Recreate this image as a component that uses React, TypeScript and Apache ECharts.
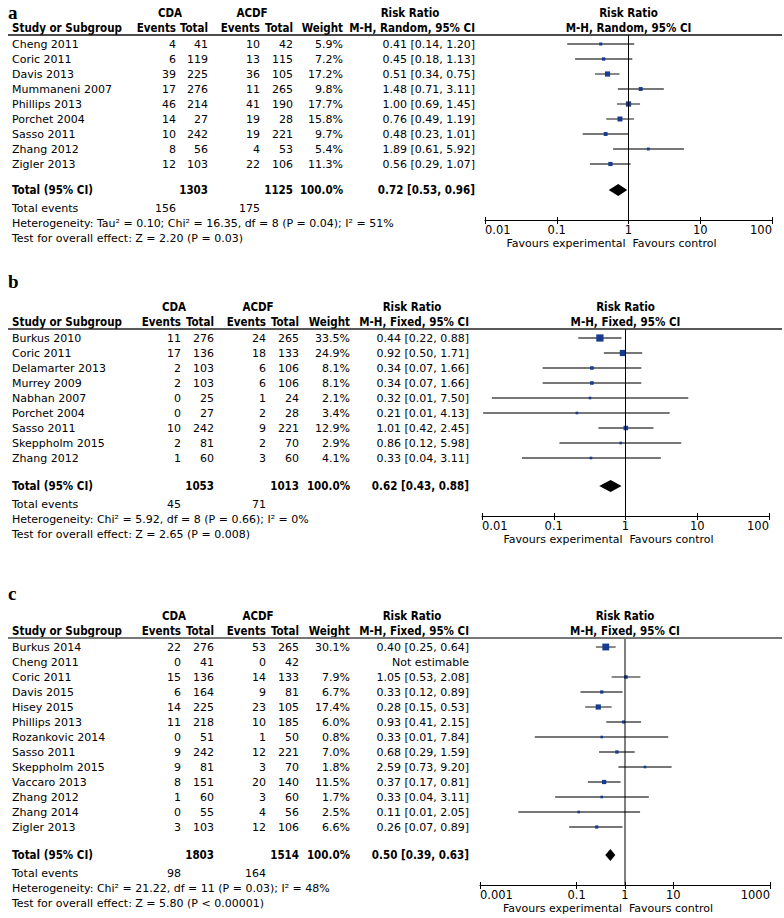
import React, { useEffect, useRef } from "react";
import * as echarts from "echarts";

// ---------- Panel a ----------
const studiesA = ["Cheng 2011", "Coric 2011", "Davis 2013", "Mummaneni 2007", "Phillips 2013", "Porchet 2004", "Sasso 2011", "Zhang 2012", "Zigler 2013"];
const cdaEventsA = [4, 6, 39, 17, 46, 14, 10, 8, 12];
const cdaTotalA = [41, 119, 225, 276, 214, 27, 242, 56, 103];
const acdfEventsA = [10, 13, 36, 11, 41, 19, 19, 4, 22];
const acdfTotalA = [42, 115, 105, 265, 190, 28, 221, 53, 106];
const weightA = [5.9, 7.2, 17.2, 9.8, 17.7, 15.8, 9.7, 5.4, 11.3];
const rrA = [0.41, 0.45, 0.51, 1.48, 1.0, 0.76, 0.48, 1.89, 0.56];
const lowerA = [0.14, 0.18, 0.34, 0.71, 0.69, 0.49, 0.23, 0.61, 0.29];
const upperA = [1.2, 1.13, 0.75, 3.11, 1.45, 1.19, 1.01, 5.92, 1.07];
const totalsA = [1303, 1125];
const totalEventsA = [156, 175];
const pooledA = [0.72, 0.53, 0.96];
const hetA = "Heterogeneity: Tau² = 0.10; Chi² = 16.35, df = 8 (P = 0.04); I² = 51%";
const testA = "Test for overall effect: Z = 2.20 (P = 0.03)";
const ticksA = [0.01, 0.1, 1, 10, 100];

// ---------- Panel b ----------
const studiesB = ["Burkus 2010", "Coric 2011", "Delamarter 2013", "Murrey 2009", "Nabhan 2007", "Porchet 2004", "Sasso 2011", "Skeppholm 2015", "Zhang 2012"];
const cdaEventsB = [11, 17, 2, 2, 0, 0, 10, 2, 1];
const cdaTotalB = [276, 136, 103, 103, 25, 27, 242, 81, 60];
const acdfEventsB = [24, 18, 6, 6, 1, 2, 9, 2, 3];
const acdfTotalB = [265, 133, 106, 106, 24, 28, 221, 70, 60];
const weightB = [33.5, 24.9, 8.1, 8.1, 2.1, 3.4, 12.9, 2.9, 4.1];
const rrB = [0.44, 0.92, 0.34, 0.34, 0.32, 0.21, 1.01, 0.86, 0.33];
const lowerB = [0.22, 0.5, 0.07, 0.07, 0.0137, 0.0104, 0.42, 0.12, 0.036];
const upperB = [0.88, 1.71, 1.66, 1.66, 7.5, 4.13, 2.45, 5.98, 3.11];
const totalsB = [1053, 1013];
const totalEventsB = [45, 71];
const pooledB = [0.62, 0.43, 0.88];
const hetB = "Heterogeneity: Chi² = 5.92, df = 8 (P = 0.66); I² = 0%";
const testB = "Test for overall effect: Z = 2.65 (P = 0.008)";
const ticksB = [0.01, 0.1, 1, 10, 100];

// ---------- Panel c ----------
const studiesC = ["Burkus 2014", "Cheng 2011", "Coric 2011", "Davis 2015", "Hisey 2015", "Phillips 2013", "Rozankovic 2014", "Sasso 2011", "Skeppholm 2015", "Vaccaro 2013", "Zhang 2012", "Zhang 2014", "Zigler 2013"];
const cdaEventsC = [22, 0, 15, 6, 14, 11, 0, 9, 9, 8, 1, 0, 3];
const cdaTotalC = [276, 41, 136, 164, 225, 218, 51, 242, 81, 151, 60, 55, 103];
const acdfEventsC = [53, 0, 14, 9, 23, 10, 1, 12, 3, 20, 3, 4, 12];
const acdfTotalC = [265, 42, 133, 81, 105, 185, 50, 221, 70, 140, 60, 56, 106];
const weightC = [30.1, null, 7.9, 6.7, 17.4, 6.0, 0.8, 7.0, 1.8, 11.5, 1.7, 2.5, 6.6];
const rrC = [0.4, null, 1.05, 0.33, 0.28, 0.93, 0.33, 0.68, 2.59, 0.37, 0.33, 0.11, 0.26];
const lowerC = [0.25, null, 0.53, 0.12, 0.15, 0.41, 0.0136, 0.29, 0.73, 0.17, 0.036, 0.0062, 0.07];
const upperC = [0.64, null, 2.08, 0.89, 0.53, 2.15, 7.84, 1.59, 9.2, 0.81, 3.11, 2.05, 0.89];
const totalsC = [1803, 1514];
const totalEventsC = [98, 164];
const pooledC = [0.5, 0.39, 0.63];
const hetC = "Heterogeneity: Chi² = 21.22, df = 11 (P = 0.03); I² = 48%";
const testC = "Test for overall effect: Z = 5.80 (P < 0.00001)";
const ticksC = [0.001, 0.1, 1, 10, 1000];

// ---------- layout ----------
const ROW = 15;
const FONT = "'DejaVu Sans', sans-serif";
const FONT_BOLD = "'DejaVu Sans Condensed', 'DejaVu Sans', sans-serif";
const FS = 11;
const FSB = 11.5;

const panels = [
  {
    letter: "a", letterY: 12, top: 35, totalGap: 26, method: "M-H, Random, 95% CI",
    cols: [176, 208, 260, 293, 343, 475], heads: [170, 252, 410], plot: [485, 772],
    rule: { color: "#111", width: 1.5 },
    studies: studiesA, cdaE: cdaEventsA, cdaT: cdaTotalA, acdfE: acdfEventsA, acdfT: acdfTotalA,
    weight: weightA, rr: rrA, lo: lowerA, hi: upperA, totals: totalsA, tev: totalEventsA,
    pooled: pooledA, het: hetA, test: testA, ticks: ticksA, custom: false,
  },
  {
    letter: "b", letterY: 281, top: 329, totalGap: 28, method: "M-H, Fixed, 95% CI",
    cols: [181, 214, 266, 299, 350, 469], heads: [174, 258, 412], plot: [482, 769],
    rule: { color: "#222", width: 1.3 },
    studies: studiesB, cdaE: cdaEventsB, cdaT: cdaTotalB, acdfE: acdfEventsB, acdfT: acdfTotalB,
    weight: weightB, rr: rrB, lo: lowerB, hi: upperB, totals: totalsB, tev: totalEventsB,
    pooled: pooledB, het: hetB, test: testB, ticks: ticksB, custom: false,
  },
  {
    letter: "c", letterY: 593, top: 638, totalGap: 28, method: "M-H, Fixed, 95% CI",
    cols: [181, 214, 266, 299, 350, 469], heads: [174, 258, 412], plot: [480, 770],
    rule: { color: "#777", width: 2 },
    studies: studiesC, cdaE: cdaEventsC, cdaT: cdaTotalC, acdfE: acdfEventsC, acdfT: acdfTotalC,
    weight: weightC, rr: rrC, lo: lowerC, hi: upperC, totals: totalsC, tev: totalEventsC,
    pooled: pooledC, het: hetC, test: testC, ticks: ticksC, custom: true,
  },
];

const f2 = (v: number) => v.toFixed(2);
const rrText = (r: number, l: number, h: number) => `${f2(r)} [${f2(l)}, ${f2(h)}]`;
const tickFmt = (v: number) => {
  const e = Math.round(Math.log10(v));
  return e < 0 ? Math.pow(10, e).toFixed(-e) : String(Math.round(Math.pow(10, e)));
};

function txt(x: number, y: number, text: string, align: string, bold = false) {
  return {
    type: "text",
    x,
    y,
    silent: true,
    style: {
      text,
      fill: "#000",
      fontFamily: bold ? FONT_BOLD : FONT,
      fontSize: bold ? FSB : FS,
      fontWeight: bold ? "bold" : "normal",
      align,
      textAlign: align,
      verticalAlign: "middle",
      textVerticalAlign: "middle",
    },
  };
}

function buildOption() {
  const grids: any[] = [];
  const xAxes: any[] = [];
  const yAxes: any[] = [];
  const series: any[] = [];
  const graphics: any[] = [];

  panels.forEach((p, gi) => {
    const n = p.studies.length;
    const totalPos = n - 1 + p.totalGap / ROW;
    const yMin = -0.6;
    const yMax = totalPos + 2;
    const height = (yMax - yMin) * ROW;
    const rowY = (v: number) => p.top + (v - yMin) * ROW;
    const xMin = p.ticks[0];
    const xMax = p.ticks[p.ticks.length - 1];
    const xOne = p.plot[0] + ((p.plot[1] - p.plot[0]) * (0 - Math.log10(xMin))) / (Math.log10(xMax) - Math.log10(xMin));
    const axisY = p.top + height;

    grids.push({ left: p.plot[0], top: p.top, width: p.plot[1] - p.plot[0], height, containLabel: false, outerBoundsMode: "none" });
    yAxes.push({ type: "value", gridIndex: gi, min: yMin, max: yMax, inverse: true, show: false });

    const tickExtra = p.custom ? { customValues: p.ticks } : {};
    xAxes.push({
      type: "log", logBase: 10, gridIndex: gi, min: xMin, max: xMax, position: "bottom",
      axisLine: { show: true, onZero: false, lineStyle: { color: "#000", width: 1 } },
      axisTick: { show: true, inside: false, length: 4, lineStyle: { color: "#000", width: 1 }, ...tickExtra },
      axisLabel: {
        show: true, margin: 4, color: "#000", fontFamily: FONT, fontSize: 11.5, formatter: tickFmt,
        showMinLabel: true, showMaxLabel: true, alignMinLabel: "left", alignMaxLabel: "right", ...tickExtra,
      },
      splitLine: { show: false }, minorTick: { show: false }, minorSplitLine: { show: false },
    });
    xAxes.push({
      type: "log", logBase: 10, gridIndex: gi, min: xMin, max: xMax, position: "bottom",
      axisLine: { show: false, onZero: false },
      axisTick: { show: true, inside: true, length: 3, lineStyle: { color: "#000", width: 1 }, ...tickExtra },
      axisLabel: { show: false, ...tickExtra },
      splitLine: { show: false }, minorTick: { show: false }, minorSplitLine: { show: false },
    });

    const ciData: any[] = [];
    p.studies.forEach((_, i) => {
      if (p.rr[i] != null) ciData.push([p.rr[i], i, p.lo[i], p.hi[i], p.weight[i]]);
    });

    // line of no effect
    series.push({
      type: "line", xAxisIndex: gi * 2, yAxisIndex: gi, data: [[1, yMin], [1, yMax]],
      symbol: "none", silent: true, clip: false, lineStyle: { color: "#000", width: 1 },
    });
    // study CIs and squares
    series.push({
      type: "custom", xAxisIndex: gi * 2, yAxisIndex: gi, data: ciData, silent: true,
      encode: { x: 0, y: 1 },
      renderItem: (params: any, api: any) => {
        const yv = api.value(1);
        const c = api.coord([api.value(0), yv]);
        const l = api.coord([api.value(2), yv]);
        const h = api.coord([api.value(3), yv]);
        const s = Math.max(2.6, 1.25 * Math.sqrt(api.value(4)));
        return {
          type: "group",
          children: [
            { type: "line", shape: { x1: l[0], y1: c[1], x2: h[0], y2: c[1] }, style: { stroke: "#4a4a4a", lineWidth: 1.3 } },
            { type: "rect", shape: { x: c[0] - s / 2, y: c[1] - s / 2, width: s, height: s }, style: { fill: "#173c8f" } },
          ],
        };
      },
    });
    // pooled diamond
    series.push({
      type: "custom", xAxisIndex: gi * 2, yAxisIndex: gi, silent: true,
      data: [[p.pooled[0], totalPos, p.pooled[1], p.pooled[2]]],
      encode: { x: 0, y: 1 },
      renderItem: (params: any, api: any) => {
        const yv = api.value(1);
        const c = api.coord([api.value(0), yv]);
        const l = api.coord([api.value(2), yv]);
        const h = api.coord([api.value(3), yv]);
        return {
          type: "polygon",
          shape: { points: [[l[0], c[1]], [c[0], c[1] - 6], [h[0], c[1]], [c[0], c[1] + 6]] },
          style: { fill: "#000" },
        };
      },
    });

    // ----- texts -----
    graphics.push({
      type: "text", x: 8, y: p.letterY, silent: true,
      style: { text: p.letter, fill: "#000", fontFamily: "'Liberation Serif', serif", fontSize: 19, fontWeight: "bold", verticalAlign: "middle", textVerticalAlign: "middle" },
    });
    const h1 = p.top - 22;
    const h2 = p.top - 7;
    graphics.push(txt(p.heads[0], h1, "CDA", "center", true));
    graphics.push(txt(p.heads[1], h1, "ACDF", "center", true));
    graphics.push(txt(p.heads[2], h1, "Risk Ratio", "center", true));
    graphics.push(txt(12, h2, "Study or Subgroup", "left", true));
    graphics.push(txt(p.cols[0], h2, "Events", "right", true));
    graphics.push(txt(p.cols[1], h2, "Total", "right", true));
    graphics.push(txt(p.cols[2], h2, "Events", "right", true));
    graphics.push(txt(p.cols[3], h2, "Total", "right", true));
    graphics.push(txt(p.cols[4], h2, "Weight", "right", true));
    graphics.push(txt(p.cols[5], h2, p.method, "right", true));
    graphics.push(txt(xOne, h1, "Risk Ratio", "center", true));
    graphics.push(txt(xOne, h2, p.method, "center", true));
    graphics.push({
      type: "line", silent: true, z: 10,
      shape: { x1: 8, y1: p.top, x2: 782, y2: p.top },
      style: { stroke: p.rule.color, lineWidth: p.rule.width },
    });

    p.studies.forEach((s, i) => {
      const y = rowY(i);
      graphics.push(txt(12, y, s, "left"));
      graphics.push(txt(p.cols[0], y, String(p.cdaE[i]), "right"));
      graphics.push(txt(p.cols[1], y, String(p.cdaT[i]), "right"));
      graphics.push(txt(p.cols[2], y, String(p.acdfE[i]), "right"));
      graphics.push(txt(p.cols[3], y, String(p.acdfT[i]), "right"));
      if (p.weight[i] != null) graphics.push(txt(p.cols[4], y, `${(p.weight[i] as number).toFixed(1)}%`, "right"));
      if (p.rr[i] != null) {
        graphics.push(txt(p.cols[5], y, rrText(p.rr[i] as number, p.lo[i] as number, p.hi[i] as number), "right"));
      } else {
        graphics.push(txt(p.cols[5], y, "Not estimable", "right"));
      }
    });

    const ty = rowY(totalPos);
    graphics.push(txt(12, ty, "Total (95% CI)", "left", true));
    graphics.push(txt(p.cols[1], ty, String(p.totals[0]), "right", true));
    graphics.push(txt(p.cols[3], ty, String(p.totals[1]), "right", true));
    graphics.push(txt(p.cols[4], ty, "100.0%", "right", true));
    graphics.push(txt(p.cols[5], ty, rrText(p.pooled[0], p.pooled[1], p.pooled[2]), "right", true));
    graphics.push(txt(12, ty + 18, "Total events", "left"));
    graphics.push(txt(p.cols[0], ty + 18, String(p.tev[0]), "right"));
    graphics.push(txt(p.cols[2], ty + 18, String(p.tev[1]), "right"));
    graphics.push(txt(12, ty + 33, p.het, "left"));
    graphics.push(txt(12, ty + 48, p.test, "left"));

    graphics.push(txt(xOne - 3, axisY + 23, "Favours experimental", "right"));
    graphics.push(txt(xOne + 4, axisY + 23, "Favours control", "left"));
  });

  return {
    animation: false,
    backgroundColor: "#fff",
    grid: grids,
    xAxis: xAxes,
    yAxis: yAxes,
    series,
    graphic: graphics,
  };
}

export default function App() {
  const ref = useRef<HTMLDivElement>(null);
  useEffect(() => {
    document.body.style.margin = "0";
    const chart = echarts.init(ref.current as HTMLDivElement, undefined, { renderer: "svg" });
    chart.setOption(buildOption() as any);
    return () => chart.dispose();
  }, []);
  return <div ref={ref} style={{ width: 784, height: 918 }} />;
}
